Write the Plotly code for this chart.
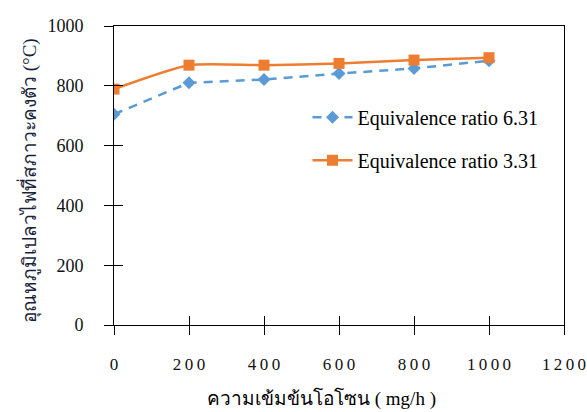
import plotly.graph_objects as go

# Ozone concentration (mg/h)
ozone = [0, 200, 400, 600, 800, 1000]
# Steady-state flame temperature (°C)
temp_er_631 = [705, 810, 821, 841, 858, 884]
temp_er_331 = [789, 869, 869, 875, 886, 894]

x_ticks = [0, 200, 400, 600, 800, 1000, 1200]
y_ticks = [0, 200, 400, 600, 800, 1000]

BLUE = "#5B9BD5"
ORANGE = "#ED7D31"
SERIF = "'Times New Roman', 'Liberation Serif', 'DejaVu Serif', serif"


def spaced(v):
    return "\u2009".join(str(v))


fig = go.Figure()
fig.add_trace(go.Scatter(
    x=ozone, y=temp_er_631, name="Equivalence ratio 6.31",
    mode="lines+markers",
    line=dict(color=BLUE, width=2.5, dash="9px,7px"),
    marker=dict(symbol="diamond", size=10, color=BLUE),
    legendgroup="a",
))
fig.add_trace(go.Scatter(
    x=ozone, y=temp_er_331, name="Equivalence ratio 3.31",
    mode="lines+markers",
    line=dict(color=ORANGE, width=2.5, shape="spline", smoothing=0.6),
    marker=dict(symbol="square", size=11, color=ORANGE),
    legendgroup="b",
))

# mirrored inner tick marks so each tick crosses its axis line
fig.add_trace(go.Scatter(x=[None], y=[None], xaxis="x2", yaxis="y2",
                         showlegend=False, hoverinfo="skip"))

axis_common = dict(showgrid=False, zeroline=False, linecolor="#000000",
                   linewidth=1, tickcolor="#000000", tickwidth=1, ticklen=9,
                   automargin=False)

fig.update_layout(
    width=587, height=412,
    margin=dict(l=114, r=23, t=26, b=87),
    paper_bgcolor="white", plot_bgcolor="white",
    font=dict(family=SERIF, color="#000000"),
    xaxis=dict(range=[0, 1200], tickvals=x_ticks,
               ticktext=[spaced(v) for v in x_ticks],
               ticks="outside", mirror=True, showline=True,
               tickfont=dict(size=17, family=SERIF, color="#111111"),
               ticklabelstandoff=15, **axis_common),
    yaxis=dict(range=[0, 1000], tickvals=y_ticks,
               ticks="outside", mirror=True, showline=True,
               tickfont=dict(size=18, family=SERIF, color="#111111"),
               ticklabelstandoff=17, **axis_common),
    xaxis2=dict(overlaying="x", matches="x", range=[0, 1200], tickvals=x_ticks,
                ticks="inside", showticklabels=False, showline=False,
                anchor="y2", side="bottom", showgrid=False, zeroline=False,
                tickcolor="#000000", tickwidth=1, ticklen=9, automargin=False),
    yaxis2=dict(overlaying="y", matches="y", range=[0, 1000], tickvals=y_ticks,
                ticks="inside", showticklabels=False, showline=False,
                anchor="x2", side="left", showgrid=False, zeroline=False,
                tickcolor="#000000", tickwidth=1, ticklen=9, automargin=False),
    legend=dict(x=0.43, y=0.76, xanchor="left", yanchor="top",
                bgcolor="rgba(0,0,0,0)", tracegroupgap=14,
                font=dict(size=20, family=SERIF, color="#000000"),
                itemwidth=40),
    showlegend=True,
    annotations=[
        dict(text="ความเข้มข้นโอโซน ( mg/h )", xref="paper", yref="paper",
             x=(321 - 114) / 450, y=-73 / 299, xanchor="center", yanchor="middle",
             showarrow=False, font=dict(size=19, family=SERIF, color="#000000")),
        dict(text="อุณหภูมิเปลวไฟที่สภาวะคงตัว (°C)", xref="paper", yref="paper",
             x=(29 - 114) / 450, y=(325 - 181) / 299, xanchor="center", yanchor="middle",
             textangle=-90, showarrow=False,
             font=dict(size=19, family=SERIF, color="#1a1f3a")),
    ],
)

fig.write_html("out.html")
